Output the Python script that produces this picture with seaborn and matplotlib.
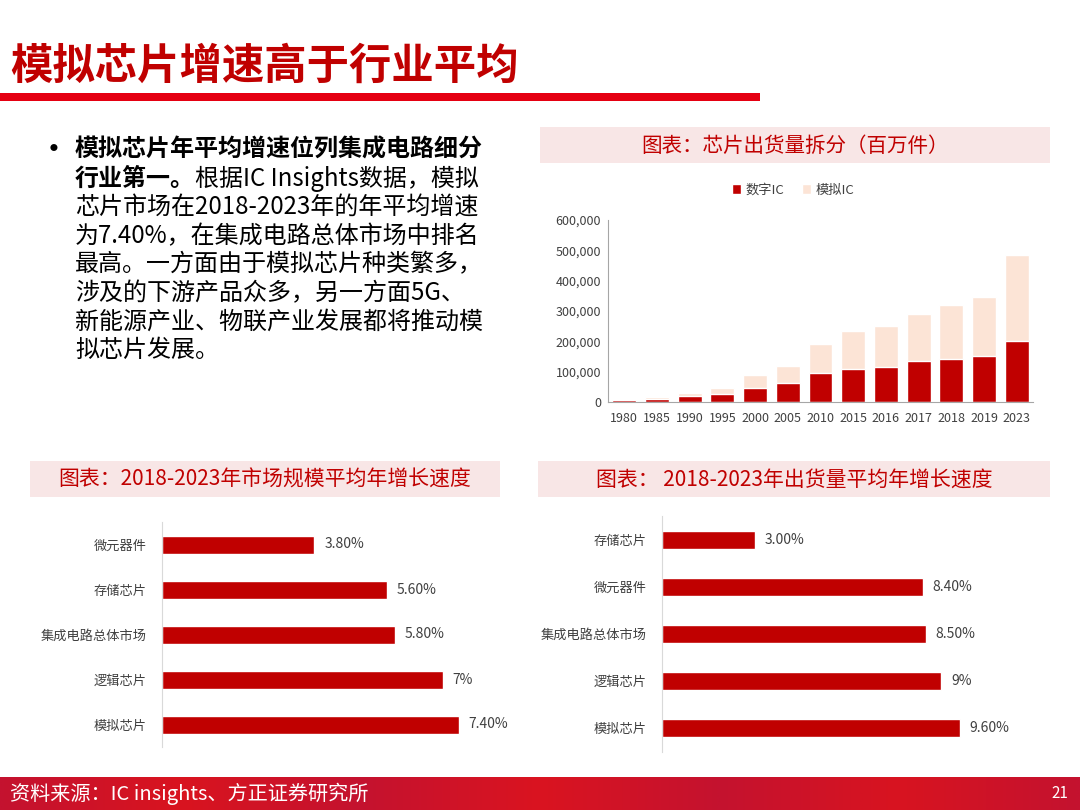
import numpy as np
import pandas as pd
import matplotlib
matplotlib.use("Agg")
import matplotlib.pyplot as plt
from matplotlib.colors import LinearSegmentedColormap
from matplotlib.ticker import FuncFormatter, MultipleLocator
import seaborn as sns

# ---------------- data ----------------
years = ['1980', '1985', '1990', '1995', '2000', '2005', '2010', '2015',
         '2016', '2017', '2018', '2019', '2023']
digital_ic = [6000, 9000, 20000, 26000, 46000, 61000, 96500, 110000,
              117000, 134000, 143000, 152000, 202000]
analog_ic = [2000, 6000, 11000, 20000, 42000, 59000, 93500, 124000,
             134000, 156000, 177000, 195000, 282000]

market_categories = ['微元器件', '存储芯片', '集成电路总体市场', '逻辑芯片', '模拟芯片']
market_growth = [3.8, 5.6, 5.8, 7.0, 7.4]
market_labels = ['3.80%', '5.60%', '5.80%', '7%', '7.40%']

ship_categories = ['存储芯片', '微元器件', '集成电路总体市场', '逻辑芯片', '模拟芯片']
ship_growth = [3.0, 8.4, 8.5, 9.0, 9.6]
ship_labels = ['3.00%', '8.40%', '8.50%', '9%', '9.60%']

title = '模拟芯片增速高于行业平均'
bullet_bold_1 = '模拟芯片年平均增速位列集成电路细分'
bullet_bold_2 = '行业第一。'
bullet_rest_2 = '根据IC Insights数据，模拟'
bullet_lines = ['芯片市场在2018-2023年的年平均增速',
                '为7.40%，在集成电路总体市场中排名',
                '最高。一方面由于模拟芯片种类繁多，',
                '涉及的下游产品众多，另一方面5G、',
                '新能源产业、物联产业发展都将推动模',
                '拟芯片发展。']
chart1_title = '图表：芯片出货量拆分（百万件）'
chart2_title = '图表：2018-2023年市场规模平均年增长速度'
chart3_title = '图表： 2018-2023年出货量平均年增长速度'
source_text = '资料来源：IC insights、方正证券研究所'
page_no = '21'

# ---------------- style ----------------
sns.set_style('white')
plt.rcParams['font.family'] = ['Noto Sans CJK SC', 'DejaVu Sans']

RED = '#C00000'
PEACH = '#FCE4D6'
HEAD_BG = '#F8E6E6'
TICK = '#404040'

W, H = 1080, 810
fig = plt.figure(figsize=(10.8, 8.1), dpi=100)

bg = fig.add_axes([0, 0, 1, 1], zorder=0)
bg.axis('off')


def px_axes(l, t, r, b):
    return fig.add_axes([l / W, 1 - b / H, (r - l) / W, (b - t) / H], zorder=2)


# footer gradient
cmap = LinearSegmentedColormap.from_list(
    'foot', ['#C4122F', '#D9141F', '#C4122F', '#DA1420', '#C4122F', '#D81420', '#C4122F'])
grad = np.linspace(0, 1, 400).reshape(1, -1)
bg.imshow(grad, extent=(0, W, H, 777), cmap=cmap, aspect='auto', zorder=0)
bg.set_xlim(0, W)
bg.set_ylim(H, 0)

# title + rule
bg.text(10, 67, title, fontsize=30.5, fontweight='bold', color=RED, va='center', ha='left')
bg.add_patch(plt.Rectangle((0, 93), 760, 8, color='#E50012', lw=0))

# bullet text
y0, dy = 150, 28.6
bg.text(40, y0, '•', fontsize=20, fontweight='bold', color='black', va='center', ha='left')
bg.text(75, y0, bullet_bold_1, fontsize=17.3, fontweight='bold', color='black', va='center')
t2 = bg.text(75, y0 + dy, bullet_bold_2, fontsize=17.3, fontweight='bold', color='black', va='center')
bg.annotate(bullet_rest_2, xy=(1, 0.5), xycoords=t2, fontsize=17.3, color='black',
            va='center', ha='left')
for i, ln in enumerate(bullet_lines):
    bg.text(75, y0 + dy * (i + 2), ln, fontsize=17.3, color='black', va='center')

# chart headers
for (l, t, r, b, txt, fs) in [(540, 127, 1050, 163, chart1_title, 14.8),
                              (30, 461, 500, 497, chart2_title, 15),
                              (538, 461, 1050, 497, chart3_title, 15)]:
    bg.add_patch(plt.Rectangle((l, t), r - l, b - t, color=HEAD_BG, lw=0))
    bg.text((l + r) / 2, (t + b) / 2 + 1, txt, fontsize=fs, color=RED, ha='center', va='center')

# footer text
bg.text(10, 794, source_text, fontsize=14.5, color='white', va='center', ha='left')
bg.text(1068, 794, page_no, fontsize=11, color='white', va='center', ha='right')

# ---------------- chart 1: stacked bars ----------------
ax1 = px_axes(608, 220, 1033, 402)
total = [d + a for d, a in zip(digital_ic, analog_ic)]
sns.barplot(x=years, y=total, color=PEACH, saturation=1, width=0.73, ax=ax1, label='模拟IC')
sns.barplot(x=years, y=digital_ic, color=RED, saturation=1, width=0.73, ax=ax1, label='数字IC')
ax1.set_ylim(0, 600000)
ax1.yaxis.set_major_locator(MultipleLocator(100000))
ax1.yaxis.set_major_formatter(FuncFormatter(lambda v, p: f'{v:,.0f}'))
ax1.set_xlabel('')
ax1.set_ylabel('')
for s in ['top', 'right']:
    ax1.spines[s].set_visible(False)
for s in ['left', 'bottom']:
    ax1.spines[s].set_color('#A6A6A6')
    ax1.spines[s].set_linewidth(0.8)
ax1.tick_params(axis='y', length=3, width=0.8, color='#A6A6A6', pad=2, labelsize=9, labelcolor=TICK)
ax1.tick_params(axis='x', length=0, pad=7, labelsize=9, labelcolor=TICK)
handles, labels = ax1.get_legend_handles_labels()
order = [labels.index('数字IC'), labels.index('模拟IC')]
if ax1.get_legend() is not None:
    ax1.get_legend().remove()
ax1.legend([handles[i] for i in order], [labels[i] for i in order],
           loc='center', bbox_to_anchor=(793 / W, 1 - 190 / H), bbox_transform=fig.transFigure,
           ncol=2, frameon=False, fontsize=9.5, handlelength=0.7, handleheight=0.7,
           handletextpad=0.3, columnspacing=1.4, labelcolor=TICK)


# ---------------- horizontal bar charts ----------------
def hbar(ax, vals, cats, labs, xmax, width):
    sns.barplot(x=vals, y=cats, orient='h', color=RED, saturation=1, width=width, ax=ax)
    ax.set_xlim(0, xmax)
    ax.set_xlabel('')
    ax.set_ylabel('')
    ax.xaxis.set_visible(False)
    for s in ['top', 'right', 'bottom']:
        ax.spines[s].set_visible(False)
    ax.spines['left'].set_color('#D9D9D9')
    ax.spines['left'].set_linewidth(0.8)
    ax.tick_params(axis='y', length=0, pad=11, labelsize=9.5, labelcolor=TICK)
    ax.bar_label(ax.containers[0], labels=labs, padding=7, fontsize=10, color=TICK)


ax2 = px_axes(162, 522, 503, 747)
hbar(ax2, market_growth, market_categories, market_labels, 8.5, 0.4)

ax3 = px_axes(662, 516, 1050, 752)
hbar(ax3, ship_growth, ship_categories, ship_labels, 12.5, 0.38)

fig.savefig('out.png', dpi=100)
